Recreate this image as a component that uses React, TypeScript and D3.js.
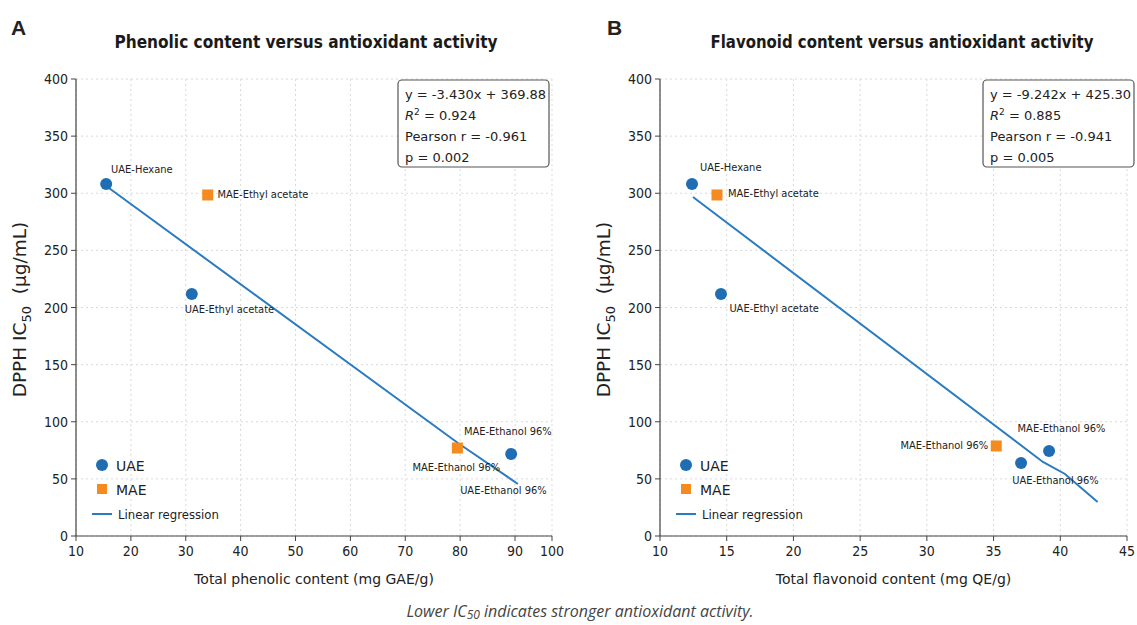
import React from "react";
import * as d3 from "d3";

// ---------- DATA ----------
const yTicks = [0, 50, 100, 150, 200, 250, 300, 350, 400];

// Panel A
const xTicksA = [10, 20, 30, 40, 50, 60, 70, 80, 90, 100];
const uaeA = [
  { x: 15.5, y: 308 },
  { x: 31.1, y: 211.8 },
  { x: 89.3, y: 71.8 },
];
const maeA = [
  { x: 34.0, y: 298.5 },
  { x: 79.5, y: 77 },
];
const lineA = [
  { x: 15.5, y: 306.3 },
  { x: 79.6, y: 81.4 },
  { x: 90.8, y: 45.5 },
];
const labelsA = [
  { text: "UAE-Hexane", x: 16.4, y: 321, anchor: "start" },
  { text: "MAE-Ethyl acetate", x: 35.8, y: 299, anchor: "start" },
  { text: "UAE-Ethyl acetate", x: 29.8, y: 198.7, anchor: "start" },
  { text: "MAE-Ethanol 96%", x: 80.7, y: 91.9, anchor: "start" },
  { text: "MAE-Ethanol 96%", x: 71.3, y: 60.4, anchor: "start" },
  { text: "UAE-Ethanol 96%", x: 80.0, y: 40.3, anchor: "start" },
];
const statsA = ["y = -3.430x + 369.88", "0.924", "Pearson r = -0.961", "p = 0.002"];

// Panel B
const xTicksB = [10, 15, 20, 25, 30, 35, 40, 45];
const uaeB = [
  { x: 12.4, y: 308 },
  { x: 14.57, y: 211.8 },
  { x: 37.06, y: 63.9 },
  { x: 39.16, y: 74.4 },
];
const maeB = [
  { x: 14.27, y: 298.5 },
  { x: 35.2, y: 78.8 },
];
const lineB = [
  { x: 12.47, y: 296.7 },
  { x: 38.7, y: 64.8 },
  { x: 40.35, y: 54.3 },
  { x: 42.8, y: 29.8 },
];
const labelsB = [
  { text: "UAE-Hexane", x: 13.0, y: 323, anchor: "start" },
  { text: "MAE-Ethyl acetate", x: 15.1, y: 300.2, anchor: "start" },
  { text: "UAE-Ethyl acetate", x: 15.2, y: 199.6, anchor: "start" },
  { text: "MAE-Ethanol 96%", x: 34.6, y: 79.7, anchor: "end" },
  { text: "MAE-Ethanol 96%", x: 36.8, y: 94.5, anchor: "start" },
  { text: "UAE-Ethanol 96%", x: 36.4, y: 49, anchor: "start" },
];
const statsB = ["y = -9.242x + 425.30", "0.885", "Pearson r = -0.941", "p = 0.005"];

const legendItems = ["UAE", "MAE", "Linear regression"];

// ---------- STYLE ----------
const BLUE = "#1f6db3";
const ORANGE = "#f58a1f";
const LINE = "#2b7bc0";
const FONT = "'DejaVu Sans', sans-serif";
const CFONT = "'DejaVu Sans Condensed', 'DejaVu Sans', sans-serif";
const TEXT = "#222";

type Pt = { x: number; y: number };
type Lbl = { text: string; x: number; y: number; anchor: string };

function Panel(props: {
  letter: string;
  letterX: number;
  title: string;
  titleX: number;
  xLabel: string;
  xDomain: number[];
  xRange: number[];
  xTicks: number[];
  uae: Pt[];
  mae: Pt[];
  line: Pt[];
  labels: Lbl[];
  stats: string[];
  boxX: number;
}) {
  const { xDomain, xRange } = props;
  const x = d3.scaleLinear().domain(xDomain).range(xRange);
  const y = d3.scaleLinear().domain([0, 400]).range([536, 79]);
  const left = xRange[0];
  const right = xRange[xRange.length - 1];
  const cx = (left + right) / 2;
  const lineGen = d3
    .line<Pt>()
    .x((d) => x(d.x))
    .y((d) => y(d.y));
  const bx = props.boxX;
  return (
    <g fontFamily={FONT} fill={TEXT}>
      <text x={props.letterX} y={35} fontSize={21} fontWeight="bold" fontFamily="'Liberation Sans', Arial, sans-serif">
        {props.letter}
      </text>
      <text
        x={props.titleX}
        y={48}
        fontSize={18}
        fontWeight="bold"
        textAnchor="middle"
        fill="#1a1a1a"
        fontFamily={CFONT}
        textLength={383}
        lengthAdjust="spacingAndGlyphs"
      >
        {props.title}
      </text>
      {/* grid */}
      {props.xTicks.map((t) => (
        <line key={"gx" + t} x1={x(t)} x2={x(t)} y1={y(0)} y2={y(400)} stroke="#d9d9d9" strokeDasharray="2,3" strokeWidth={1} />
      ))}
      {yTicks.map((t) => (
        <line key={"gy" + t} x1={left} x2={right} y1={y(t)} y2={y(t)} stroke="#d9d9d9" strokeDasharray="2,3" strokeWidth={1} />
      ))}
      {/* axes */}
      <line x1={left} x2={left} y1={y(0)} y2={y(400)} stroke="#444" strokeWidth={1.2} />
      <line x1={left} x2={right} y1={y(0)} y2={y(0)} stroke="#444" strokeWidth={1.2} />
      {yTicks.map((t) => (
        <g key={"ty" + t}>
          <line x1={left - 5} x2={left} y1={y(t)} y2={y(t)} stroke="#444" />
          <text x={left - 8} y={y(t) + 5} fontSize={14} textAnchor="end" fontFamily={CFONT}>
            {t}
          </text>
        </g>
      ))}
      {props.xTicks.map((t) => (
        <g key={"tx" + t}>
          <line x1={x(t)} x2={x(t)} y1={y(0)} y2={y(0) + 5} stroke="#444" />
          <text x={x(t)} y={y(0) + 20} fontSize={14} textAnchor="middle" fontFamily={CFONT}>
            {t}
          </text>
        </g>
      ))}
      {/* axis labels */}
      <text x={cx} y={584} fontSize={14} textAnchor="middle">
        {props.xLabel}
      </text>
      <text transform={`translate(${left - 50},${y(200) + 2}) rotate(-90)`} fontSize={18.5} textAnchor="middle">
        DPPH IC<tspan fontSize={13} dy={5}>50</tspan>
        <tspan dy={-5}>{"\u00a0\u00a0(µg/mL)"}</tspan>
      </text>
      {/* regression */}
      <path d={lineGen(props.line) || ""} fill="none" stroke={LINE} strokeWidth={2} />
      {/* points */}
      {props.uae.map((d, i) => (
        <circle key={"u" + i} cx={x(d.x)} cy={y(d.y)} r={6} fill={BLUE} />
      ))}
      {props.mae.map((d, i) => (
        <rect key={"m" + i} x={x(d.x) - 5.5} y={y(d.y) - 5.5} width={11} height={11} fill={ORANGE} />
      ))}
      {props.labels.map((l, i) => (
        <text key={"l" + i} x={x(l.x)} y={y(l.y) + 4} fontSize={11} textAnchor={l.anchor as any} fill="#222" fontFamily={CFONT}>
          {l.text}
        </text>
      ))}
      {/* stats box */}
      <rect x={bx} y={80} width={151} height={87} rx={4} fill="white" stroke="#555" strokeWidth={1.2} />
      <g fontSize={13}>
        <text x={bx + 7} y={99}>{props.stats[0]}</text>
        <text x={bx + 7} y={120}>
          <tspan fontStyle="italic">R</tspan>
          <tspan fontSize={9} dy={-5}>2</tspan>
          <tspan dy={5}>{" = " + props.stats[1]}</tspan>
        </text>
        <text x={bx + 7} y={141}>{props.stats[2]}</text>
        <text x={bx + 7} y={162}>{props.stats[3]}</text>
      </g>
      {/* legend */}
      <circle cx={left + 26} cy={465} r={6} fill={BLUE} />
      <text x={left + 40} y={471} fontSize={14}>{legendItems[0]}</text>
      <rect x={left + 21} y={484} width={10} height={10} fill={ORANGE} />
      <text x={left + 40} y={495} fontSize={14}>{legendItems[1]}</text>
      <line x1={left + 16} x2={left + 36} y1={514} y2={514} stroke={LINE} strokeWidth={2} />
      <text x={left + 42} y={519} fontSize={13} fontFamily={CFONT}>{legendItems[2]}</text>
    </g>
  );
}

export default function App() {
  return (
    <svg width={1137} height={625} style={{ position: "absolute", left: 0, top: 0, background: "white" }}>
      <rect width={1137} height={625} fill="white" />
      <Panel
        letter="A"
        letterX={11}
        title="Phenolic content versus antioxidant activity"
        titleX={306}
        xLabel="Total phenolic content (mg GAE/g)"
        xDomain={[10, 90, 100]}
        xRange={[76, 515, 552]}
        xTicks={xTicksA}
        uae={uaeA}
        mae={maeA}
        line={lineA}
        labels={labelsA}
        stats={statsA}
        boxX={398}
      />
      <Panel
        letter="B"
        letterX={607}
        title="Flavonoid content versus antioxidant activity"
        titleX={902}
        xLabel="Total flavonoid content (mg QE/g)"
        xDomain={[10, 45]}
        xRange={[660, 1127]}
        xTicks={xTicksB}
        uae={uaeB}
        mae={maeB}
        line={lineB}
        labels={labelsB}
        stats={statsB}
        boxX={983}
      />
      <text x={580} y={617} fontSize={16} fontStyle="italic" textAnchor="middle" fill="#444" fontFamily="'Open Sans', sans-serif">
        Lower IC<tspan fontSize={12} dy={2}>50</tspan>
        <tspan dy={-2}> indicates stronger antioxidant activity.</tspan>
      </text>
    </svg>
  );
}
